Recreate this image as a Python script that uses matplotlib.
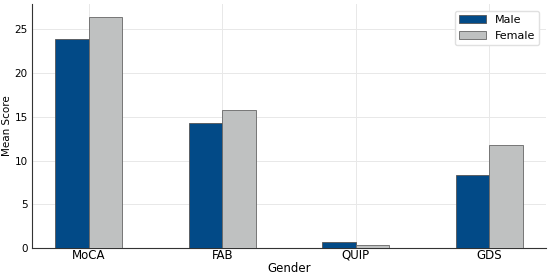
import matplotlib
matplotlib.use("Agg")
import matplotlib.pyplot as plt
import numpy as np

categories = ["MoCA", "FAB", "QUIP", "GDS"]
male = [23.9, 14.3, 0.7, 8.4]
female = [26.4, 15.8, 0.4, 11.8]

fig, ax = plt.subplots(figsize=(5.5, 2.75), dpi=100)
x = np.arange(len(categories))
w = 0.25
ax.bar(x - w/2, male, w, color="#024a87", edgecolor="#555555", linewidth=0.6, label="Male", zorder=3)
ax.bar(x + w/2, female, w, color="#bfc1c1", edgecolor="#666666", linewidth=0.6, label="Female", zorder=3)
ax.set_xticks(x)
ax.set_xticklabels(categories, fontsize=8.5)
ax.set_yticks([0, 5, 10, 15, 20, 25])
ax.tick_params(axis="y", labelsize=7.5, length=0, pad=3)
ax.tick_params(axis="x", length=0, pad=0.5)
ax.set_xlabel("Gender", fontsize=8.5, labelpad=0)
ax.set_ylabel("Mean Score", fontsize=7.5, labelpad=1.5)
ax.grid(True, color="#e8e8e8", linewidth=0.7, zorder=0)
for s in ["top", "right"]:
    ax.spines[s].set_visible(False)
for s in ["left", "bottom"]:
    ax.spines[s].set_color("#333333")
    ax.spines[s].set_linewidth(0.8)
ax.set_ylim(0, 27.9)
leg = ax.legend(fontsize=8, loc="upper right", frameon=True, framealpha=1, edgecolor="#e0e0e0",
                handlelength=2.4, handleheight=0.7, borderaxespad=0.6)
plt.subplots_adjust(left=0.058, right=0.993, top=0.985, bottom=0.098)
fig.savefig("out.png", dpi=100)
